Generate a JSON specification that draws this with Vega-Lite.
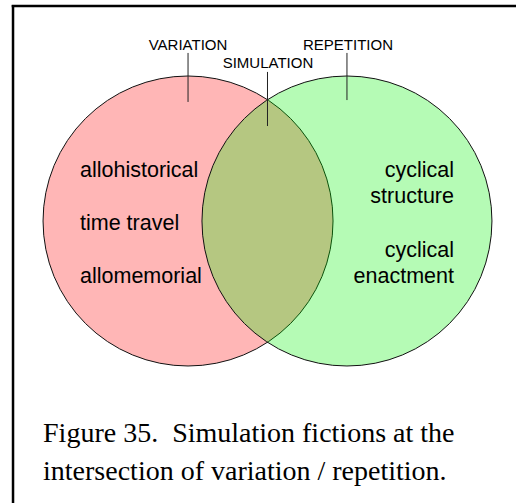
{
  "$schema": "https://vega.github.io/schema/vega-lite/v6.json",
  "width": 516,
  "height": 503,
  "padding": 0,
  "autosize": "none",
  "background": "white",
  "config": {"view": {"stroke": null}},
  "datasets": {
    "frame": [
      {"side": "top", "x": -1.764, "y": 1.483, "x2": 2.2, "y2": 1.483},
      {"side": "left", "x": -1.755, "y": 1.490, "x2": -1.755, "y2": -2.3}
    ],
    "sets": [{"set": "VARIATION", "x": -0.548, "y": 0}, {"set": "REPETITION", "x": 0.548, "y": 0}],
    "ticks": [
      {"set": "VARIATION", "x": -0.548, "y": 1.159, "y2": 0.821},
      {"set": "REPETITION", "x": 0.548, "y": 1.159, "y2": 0.834},
      {"set": "SIMULATION", "x": 0.0, "y": 1.028, "y2": 0.655}
    ],
    "heads": [
      {"label": "VARIATION", "x": -0.548, "y": 1.179},
      {"label": "REPETITION", "x": 0.555, "y": 1.179},
      {"label": "SIMULATION", "x": 0.003, "y": 1.055}
    ],
    "left": [
      {"label": "allohistorical", "x": -1.293, "y": 0.303},
      {"label": "time travel", "x": -1.293, "y": -0.062},
      {"label": "allomemorial", "x": -1.293, "y": -0.428}
    ],
    "right": [
      {"label": "cyclical", "x": 1.286, "y": 0.303},
      {"label": "structure", "x": 1.286, "y": 0.124},
      {"label": "cyclical", "x": 1.286, "y": -0.248},
      {"label": "enactment", "x": 1.286, "y": -0.428}
    ],
    "caption": [
      {"label": "Figure 35.\u00a0 Simulation fictions at the", "x": -1.548, "y": -1.524},
      {"label": "intersection of variation / repetition.", "x": -1.548, "y": -1.786}
    ]
  },
  "layer": [
    {
      "data": {"name": "frame"},
      "mark": {"type": "rule", "color": "black", "strokeWidth": 2.5, "strokeCap": "butt", "clip": true},
      "encoding": {
        "x": {"field": "x", "type": "quantitative", "axis": null, "scale": {"domain": [-1.8448, 1.7138], "nice": false, "zero": false}},
        "x2": {"field": "x2"},
        "y": {"field": "y", "type": "quantitative", "axis": null, "scale": {"domain": [-1.9448, 1.5241], "nice": false, "zero": false}},
        "y2": {"field": "y2"}
      }
    },
    {
      "data": {"name": "sets"},
      "transform": [{"filter": "datum.set === 'VARIATION'"}],
      "mark": {"type": "point", "shape": "circle", "size": 84100, "filled": true, "fill": "#ffb6b6", "fillOpacity": 1, "opacity": 1, "stroke": "#111111", "strokeWidth": 1},
      "encoding": {
        "x": {"field": "x", "type": "quantitative", "axis": null, "scale": {"domain": [-1.8448, 1.7138], "nice": false, "zero": false}},
        "y": {"field": "y", "type": "quantitative", "axis": null, "scale": {"domain": [-1.9448, 1.5241], "nice": false, "zero": false}}
      }
    },
    {
      "data": {"name": "sets"},
      "transform": [{"filter": "datum.set === 'REPETITION'"}],
      "mark": {"type": "point", "shape": "circle", "size": 84100, "filled": true, "fill": "#00f200", "fillOpacity": 0.29, "opacity": 1, "stroke": "#111111", "strokeOpacity": 1, "strokeWidth": 1},
      "encoding": {
        "x": {"field": "x", "type": "quantitative", "axis": null, "scale": {"domain": [-1.8448, 1.7138], "nice": false, "zero": false}},
        "y": {"field": "y", "type": "quantitative", "axis": null, "scale": {"domain": [-1.9448, 1.5241], "nice": false, "zero": false}}
      }
    },
    {
      "data": {"name": "ticks"},
      "mark": {"type": "rule", "color": "#222222", "strokeWidth": 1},
      "encoding": {
        "x": {"field": "x", "type": "quantitative", "axis": null, "scale": {"domain": [-1.8448, 1.7138], "nice": false, "zero": false}},
        "y": {"field": "y", "type": "quantitative", "axis": null, "scale": {"domain": [-1.9448, 1.5241], "nice": false, "zero": false}},
        "y2": {"field": "y2"}
      }
    },
    {
      "data": {"name": "heads"},
      "mark": {"type": "text", "font": "Liberation Sans", "fontSize": 15, "align": "center", "baseline": "alphabetic", "color": "black"},
      "encoding": {
        "x": {"field": "x", "type": "quantitative", "axis": null, "scale": {"domain": [-1.8448, 1.7138], "nice": false, "zero": false}},
        "y": {"field": "y", "type": "quantitative", "axis": null, "scale": {"domain": [-1.9448, 1.5241], "nice": false, "zero": false}},
        "text": {"field": "label"}
      }
    },
    {
      "data": {"name": "left"},
      "mark": {"type": "text", "font": "Liberation Sans", "fontSize": 21.5, "align": "left", "baseline": "alphabetic", "color": "black"},
      "encoding": {
        "x": {"field": "x", "type": "quantitative", "axis": null, "scale": {"domain": [-1.8448, 1.7138], "nice": false, "zero": false}},
        "y": {"field": "y", "type": "quantitative", "axis": null, "scale": {"domain": [-1.9448, 1.5241], "nice": false, "zero": false}},
        "text": {"field": "label"}
      }
    },
    {
      "data": {"name": "right"},
      "mark": {"type": "text", "font": "Liberation Sans", "fontSize": 21.5, "align": "right", "baseline": "alphabetic", "color": "black"},
      "encoding": {
        "x": {"field": "x", "type": "quantitative", "axis": null, "scale": {"domain": [-1.8448, 1.7138], "nice": false, "zero": false}},
        "y": {"field": "y", "type": "quantitative", "axis": null, "scale": {"domain": [-1.9448, 1.5241], "nice": false, "zero": false}},
        "text": {"field": "label"}
      }
    },
    {
      "data": {"name": "caption"},
      "mark": {"type": "text", "font": "Liberation Serif", "fontSize": 28, "align": "left", "baseline": "alphabetic", "color": "black"},
      "encoding": {
        "x": {"field": "x", "type": "quantitative", "axis": null, "scale": {"domain": [-1.8448, 1.7138], "nice": false, "zero": false}},
        "y": {"field": "y", "type": "quantitative", "axis": null, "scale": {"domain": [-1.9448, 1.5241], "nice": false, "zero": false}},
        "text": {"field": "label"}
      }
    }
  ]
}
